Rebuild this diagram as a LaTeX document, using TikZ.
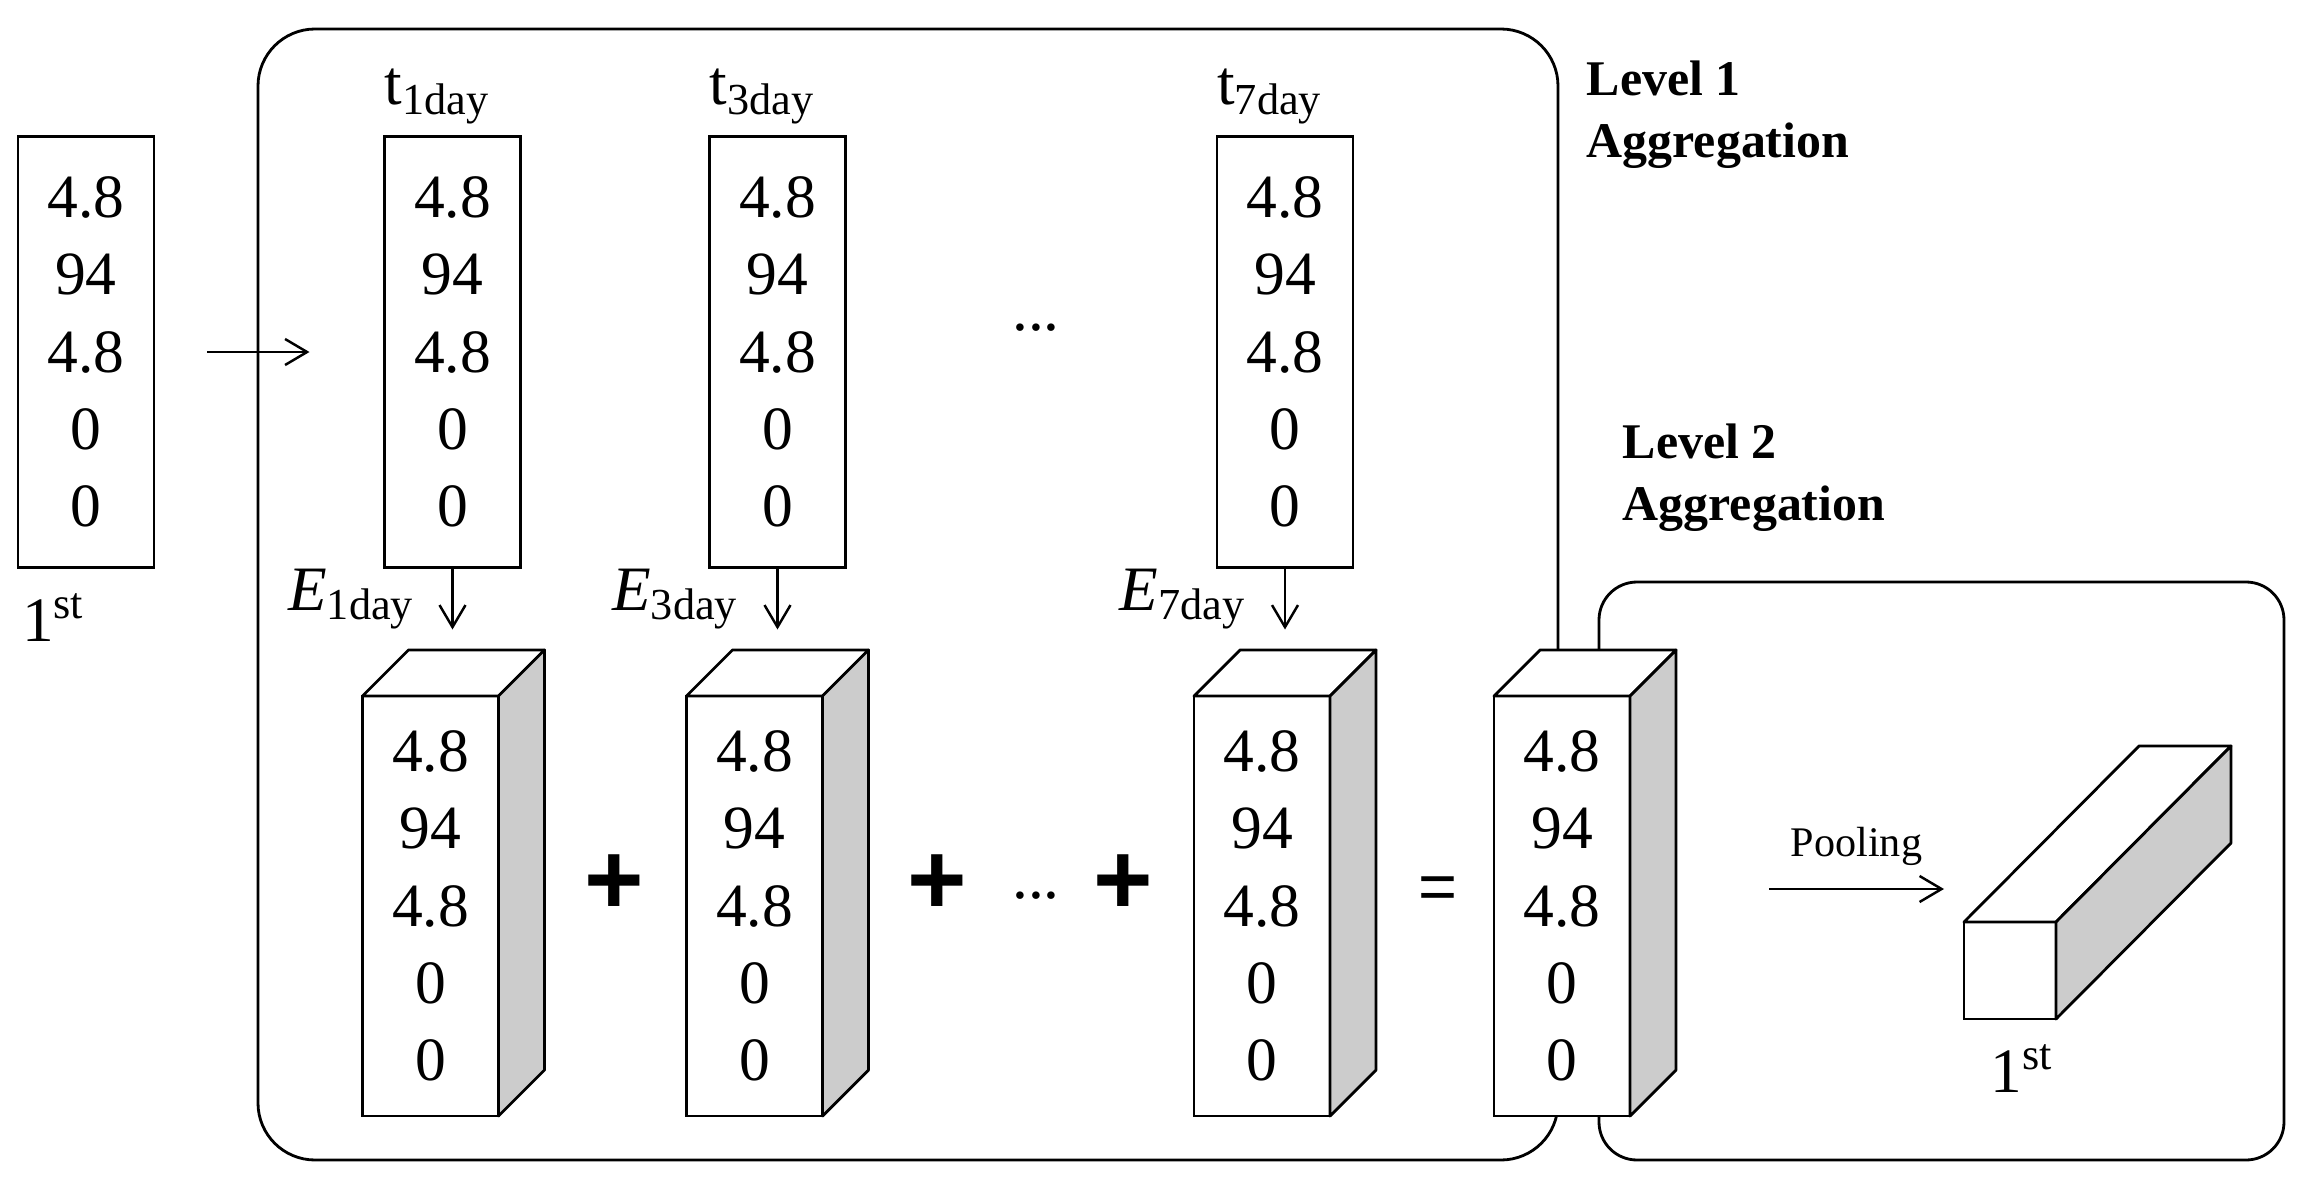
\documentclass[tikz,border=0pt]{standalone}
\usepackage{fontspec}
\setmainfont{Liberation Serif}
\newfontfamily\signfont{Liberation Sans}
\usetikzlibrary{arrows.meta, positioning, calc}
\definecolor{sidegray}{HTML}{CCCCCC}
\newcommand\colvals{4.8\\94\\4.8\\0\\0}

\begin{document}
\begin{tikzpicture}[
  vecbox/.style={
    rectangle, draw, line width=0.8pt, fill=white,
    outer sep=0pt, inner sep=0pt,
    minimum width=1.36cm, minimum height=4.31cm,
    align=center, font=\fontsize{17.5}{22}\selectfont
  },
  cubefront/.style={vecbox, minimum height=4.2cm},
  cubeface/.style={draw, line width=0.8pt, line join=round, fill=#1},
  levelbox/.style={draw, line width=0.8pt, rounded corners=#1},
  lbl/.style={font=\fontsize{18}{22}\selectfont, inner sep=0pt},
  lvltext/.style={
    font=\fontsize{14.2}{17.6}\selectfont\bfseries,
    align=left, anchor=north west, inner sep=0pt
  },
  opsign/.style={font=\signfont\fontsize{29}{30}\selectfont\bfseries, inner sep=0pt},
  eqsign/.style={font=\signfont\fontsize{19}{20}\selectfont, inner sep=0pt},
  arr/.style={line width=0.7pt, -{Straight Barb[length=2.2mm, width=2.6mm]}}
]
  \useasboundingbox (0,0) rectangle (23.11,11.88);

  \draw[levelbox=5.7mm] (2.58,0.28) rectangle (15.58,11.59);
  \draw[levelbox=3.8mm] (15.99,0.28) rectangle (22.84,6.06);
  \node[lvltext] (lvone) at (15.86,11.28) {Level 1\\Aggregation};
  \node[lvltext] (lvtwo) at (16.22,7.65) {Level 2\\Aggregation};

  \node[vecbox] (inp) at (0.86,8.36) {\colvals};
  \node[lbl, anchor=base] (inprank) at (0.535,5.47) {1\textsuperscript{st}};

  \node[vecbox] (t1) at (4.525,8.36) {\colvals};
  \node[vecbox] (t3) at (7.775,8.36) {\colvals};
  \node[vecbox] (t7) at (12.85,8.36) {\colvals};
  \node[lbl, anchor=base] (t1lab) at ($(t1.north)+(-0.15,0.32)$) {t\textsubscript{1day}};
  \node[lbl, anchor=base] (t3lab) at ($(t3.north)+(-0.15,0.32)$) {t\textsubscript{3day}};
  \node[lbl, anchor=base] (t7lab) at ($(t7.north)+(-0.15,0.32)$) {t\textsubscript{7day}};
  \node[lbl] (topdots) at (10.36,8.60) {...};

  \draw[arr] ([xshift=5.3mm]inp.east) -- ([xshift=-7.5mm]t1.west);

  \node[cubefront] (c1) at (4.305,2.82) {\colvals};
  \node[cubefront] (c3) at (7.545,2.82) {\colvals};
  \node[cubefront] (c7) at (12.62,2.82) {\colvals};
  \node[cubefront] (sum) at (15.62,2.82) {\colvals};
  \foreach \c in {c1,c3,c7,sum} {
    \draw[cubeface=white] (\c.north west) -- ++(0.46,0.46) -- ++(1.36,0) -- (\c.north east) -- cycle;
    \draw[cubeface=sidegray] (\c.north east) -- ++(0.46,0.46) -- ++(0,-4.2) -- (\c.south east) -- cycle;
  }

  \draw[arr] (t1.south) -- ++(0,-0.62);
  \draw[arr] (t3.south) -- ++(0,-0.62);
  \draw[arr] (t7.south) -- ++(0,-0.62);
  \node[lbl, anchor=base east] (e1lab) at ($(t1.south)+(-0.37,-0.425)$) {\textit{E}\textsubscript{1day}};
  \node[lbl, anchor=base east] (e3lab) at ($(t3.south)+(-0.38,-0.425)$) {\textit{E}\textsubscript{3day}};
  \node[lbl, anchor=base east] (e7lab) at ($(t7.south)+(-0.38,-0.425)$) {\textit{E}\textsubscript{7day}};

  \node[opsign] (plusa) at (6.14,3.03) {+};
  \node[opsign] (plusb) at (9.37,3.03) {+};
  \node[lbl] (botdots) at (10.36,2.92) {...};
  \node[opsign] (plusc) at (11.23,3.03) {+};
  \node[eqsign] (eq) at (14.375,2.95) {=};

  \node[vecbox, minimum width=0.92cm, minimum height=0.97cm] (bar) at (20.10,2.175) {};
  \draw[cubeface=white] (bar.north west) -- ++(1.75,1.76) -- ++(0.92,0) -- (bar.north east) -- cycle;
  \draw[cubeface=sidegray] (bar.north east) -- ++(1.75,1.76) -- ++(0,-0.97) -- (bar.south east) -- cycle;
  \node[lbl, anchor=base] (barrank) at (20.22,0.96) {1\textsuperscript{st}};

  \coordinate (poolstart) at (17.69,2.99);
  \draw[arr] (poolstart) -- ([xshift=-2mm]bar.west |- poolstart)
    node[midway, above=1mm, font=\fontsize{12}{14}\selectfont] {Pooling};
\end{tikzpicture}
\end{document}
